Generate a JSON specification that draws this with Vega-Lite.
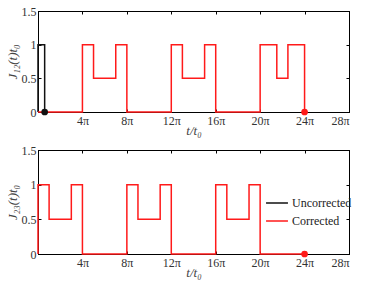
{
  "$schema": "https://vega.github.io/schema/vega-lite/v6.json",
  "background": "white",
  "padding": {"left": 5, "top": 4, "right": 5, "bottom": 2},
  "spacing": 5,
  "resolve": {"scale": {"color": "independent", "fill": "independent"}, "legend": {"color": "independent", "fill": "independent"}},
  "config": {
    "view": {"stroke": "#000", "strokeWidth": 1},
    "font": "Liberation Serif",
    "axis": {
      "grid": false,
      "domainColor": "#000",
      "tickColor": "#000",
      "tickSize": -3,
      "labelFont": "Liberation Serif",
      "labelFontSize": 12,
      "labelColor": "#333",
      "titleFont": "Liberation Serif",
      "titleFontSize": 13,
      "titleFontWeight": "normal",
      "titleColor": "#444"
    }
  },
  "datasets": {
    "top": [
      {"series": "Uncorrected", "i": 0, "t": 0, "J": 0},
      {"series": "Uncorrected", "i": 1, "t": 0, "J": 1},
      {"series": "Uncorrected", "i": 2, "t": 0.6, "J": 0},
      {"series": "Corrected", "i": 0, "t": 0, "J": 0},
      {"series": "Corrected", "i": 1, "t": 4, "J": 1},
      {"series": "Corrected", "i": 2, "t": 5, "J": 0.5},
      {"series": "Corrected", "i": 3, "t": 7, "J": 1},
      {"series": "Corrected", "i": 4, "t": 8, "J": 0},
      {"series": "Corrected", "i": 5, "t": 12, "J": 1},
      {"series": "Corrected", "i": 6, "t": 13, "J": 0.5},
      {"series": "Corrected", "i": 7, "t": 15, "J": 1},
      {"series": "Corrected", "i": 8, "t": 16, "J": 0},
      {"series": "Corrected", "i": 9, "t": 20, "J": 1},
      {"series": "Corrected", "i": 10, "t": 21.5, "J": 0.5},
      {"series": "Corrected", "i": 11, "t": 22.5, "J": 1},
      {"series": "Corrected", "i": 12, "t": 24, "J": 0}
    ],
    "topEnd": [
      {"series": "Uncorrected", "t": 0.6, "J": 0},
      {"series": "Corrected", "t": 24, "J": 0}
    ],
    "bottom": [
      {"series": "Corrected", "i": 0, "t": 0, "J": 0},
      {"series": "Corrected", "i": 1, "t": 0, "J": 1},
      {"series": "Corrected", "i": 2, "t": 1, "J": 0.5},
      {"series": "Corrected", "i": 3, "t": 3, "J": 1},
      {"series": "Corrected", "i": 4, "t": 4, "J": 0},
      {"series": "Corrected", "i": 5, "t": 8, "J": 1},
      {"series": "Corrected", "i": 6, "t": 9, "J": 0.5},
      {"series": "Corrected", "i": 7, "t": 11, "J": 1},
      {"series": "Corrected", "i": 8, "t": 12, "J": 0},
      {"series": "Corrected", "i": 9, "t": 16, "J": 1},
      {"series": "Corrected", "i": 10, "t": 17, "J": 0.5},
      {"series": "Corrected", "i": 11, "t": 19, "J": 1},
      {"series": "Corrected", "i": 12, "t": 20, "J": 0},
      {"series": "Corrected", "i": 13, "t": 24, "J": 0}
    ],
    "bottomEnd": [
      {"series": "Corrected", "t": 24, "J": 0}
    ]
  },
  "vconcat": [
    {
      "width": 311,
      "height": 101,
      "layer": [
        {
          "data": {"name": "top"},
          "mark": {"type": "line", "interpolate": "step-after", "strokeWidth": 1.5},
          "encoding": {
            "x": {"field": "t", "type": "quantitative", "scale": {"domain": [0, 28], "nice": false},
              "axis": {"values": [0, 4, 8, 12, 16, 20, 24, 28], "labelExpr": "datum.value == 0 ? '' : datum.value + 'π'", "title": "t/t₀", "titleFontStyle": "italic", "labelPadding": 6, "titlePadding": -2}},
            "y": {"field": "J", "type": "quantitative", "scale": {"domain": [0, 1.5], "nice": false},
              "axis": {"values": [0, 0.5, 1, 1.5], "labelExpr": "datum.value + ''", "title": "J₁₂(t)t₀", "titleFontStyle": "italic", "labelPadding": 5, "titlePadding": 2}},
            "color": {"field": "series", "type": "nominal", "scale": {"domain": ["Uncorrected", "Corrected"], "range": ["#111", "#ff1a1a"]}, "legend": null},
            "detail": {"field": "series"},
            "order": {"field": "i", "type": "quantitative"}
          }
        },
        {
          "data": {"name": "topEnd"},
          "mark": {"type": "point", "filled": true, "opacity": 1, "size": 45, "strokeWidth": 0},
          "encoding": {
            "x": {"field": "t", "type": "quantitative", "axis": {"orient": "top", "values": [0, 4, 8, 12, 16, 20, 24, 28], "labels": false, "title": null}},
            "y": {"field": "J", "type": "quantitative", "axis": {"orient": "right", "values": [0, 0.5, 1, 1.5], "labels": false, "title": null}},
            "fill": {"field": "series", "type": "nominal", "scale": {"domain": ["Uncorrected", "Corrected"], "range": ["#111", "#ff1a1a"]}, "legend": null}
          }
        }
      ],
      "resolve": {"axis": {"x": "independent", "y": "independent"}}
    },
    {
      "width": 311,
      "height": 104,
      "layer": [
        {
          "data": {"name": "bottom"},
          "mark": {"type": "line", "interpolate": "step-after", "strokeWidth": 1.5},
          "encoding": {
            "x": {"field": "t", "type": "quantitative", "scale": {"domain": [0, 28], "nice": false},
              "axis": {"values": [0, 4, 8, 12, 16, 20, 24, 28], "labelExpr": "datum.value == 0 ? '' : datum.value + 'π'", "title": "t/t₀", "titleFontStyle": "italic", "labelPadding": 6, "titlePadding": -2}},
            "y": {"field": "J", "type": "quantitative", "scale": {"domain": [0, 1.5], "nice": false},
              "axis": {"values": [0, 0.5, 1, 1.5], "labelExpr": "datum.value + ''", "title": "J₂₃(t)t₀", "titleFontStyle": "italic", "labelPadding": 5, "titlePadding": 2}},
            "color": {"field": "series", "type": "nominal", "scale": {"domain": ["Uncorrected", "Corrected"], "range": ["#111", "#ff1a1a"]},
              "legend": {"orient": "none", "legendX": 227, "legendY": 41, "title": null, "symbolType": "M-1,0H1", "symbolSize": 480, "symbolStrokeWidth": 1.5, "labelFontSize": 12, "labelFont": "Liberation Serif", "labelColor": "#222", "rowPadding": 0, "labelOffset": 3, "symbolFillColor": "transparent"}},
            "detail": {"field": "series"},
            "order": {"field": "i", "type": "quantitative"}
          }
        },
        {
          "data": {"name": "bottomEnd"},
          "mark": {"type": "point", "filled": true, "opacity": 1, "size": 45, "strokeWidth": 0},
          "encoding": {
            "x": {"field": "t", "type": "quantitative", "axis": {"orient": "top", "values": [0, 4, 8, 12, 16, 20, 24, 28], "labels": false, "title": null}},
            "y": {"field": "J", "type": "quantitative", "axis": {"orient": "right", "values": [0, 0.5, 1, 1.5], "labels": false, "title": null}},
            "fill": {"field": "series", "type": "nominal", "scale": {"domain": ["Uncorrected", "Corrected"], "range": ["#111", "#ff1a1a"]}, "legend": null}
          }
        }
      ],
      "resolve": {"axis": {"x": "independent", "y": "independent"}}
    }
  ]
}
